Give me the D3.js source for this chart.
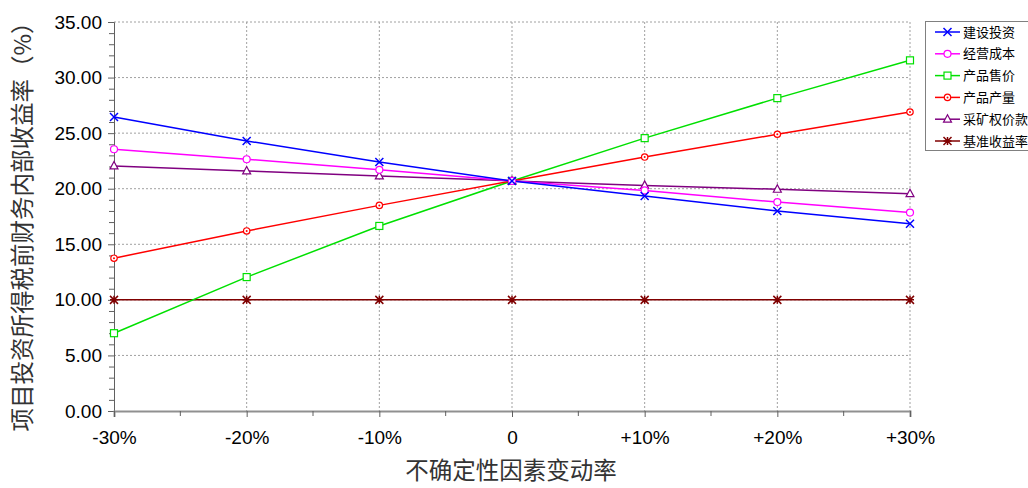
<!DOCTYPE html>
<html><head><meta charset="utf-8">
<script src="https://cdn.jsdelivr.net/npm/d3@7"></script>
<style>
body{margin:0;background:#fff;}
svg{display:block;}
text{font-family:"Liberation Sans",Arial,sans-serif;}
.cjk{font-family:"Noto Sans CJK SC",sans-serif;}
</style></head>
<body>
<svg id="c" width="1028" height="488"></svg>
<script>
const categories = ["-30%","-20%","-10%","0","+10%","+20%","+30%"];
const seriesNames = ["建设投资","经营成本","产品售价","产品产量","采矿权价款","基准收益率"];
const jianshe   = [26.45, 24.30, 22.40, 20.70, 19.35, 18.00, 16.85];
const jingying  = [23.55, 22.65, 21.70, 20.70, 19.85, 18.80, 17.85];
const shoujia   = [7.00, 12.05, 16.65, 20.70, 24.55, 28.15, 31.55];
const chanliang = [13.75, 16.20, 18.50, 20.70, 22.85, 24.90, 26.90];
const caikuang  = [22.05, 21.60, 21.15, 20.70, 20.30, 19.95, 19.55];
const jizhun    = [10.00, 10.00, 10.00, 10.00, 10.00, 10.00, 10.00];
const yTicks = [0,5,10,15,20,25,30,35];
const colors = ["#0000ff","#ff00ff","#00e000","#ff0000","#800080","#800000"];
const markers = ["x","circle","square","diamond","triangle","star"];
const allSeries = [jianshe,jingying,shoujia,chanliang,caikuang,jizhun];

const svg = d3.select("#c");
const L=114,R=910,T=22,B=411;
const x = d3.scalePoint().domain(categories).range([L,R]);
const y = d3.scaleLinear().domain([0,35]).range([B,T]);

// grid
const g = svg.append("g");
g.selectAll(".hg").data(yTicks.slice(1)).join("line")
 .attr("x1",L).attr("x2",R).attr("y1",d=>y(d)).attr("y2",d=>y(d))
 .attr("stroke","#a0a0a0").attr("stroke-width",1).attr("stroke-dasharray","2,2");
g.selectAll(".vg").data(categories.slice(1)).join("line")
 .attr("x1",d=>x(d)).attr("x2",d=>x(d)).attr("y1",T).attr("y2",B)
 .attr("stroke","#a0a0a0").attr("stroke-width",1).attr("stroke-dasharray","2,2");

// y axis
const yAx = svg.append("g").attr("transform",`translate(${L},0)`)
 .call(d3.axisLeft(y).tickValues(yTicks).tickFormat(d3.format(".2f")).tickSize(6).tickPadding(6));
yAx.select(".domain").attr("stroke","#606060");
yAx.selectAll(".tick line").attr("stroke","#606060");
yAx.selectAll("text").attr("font-size",19).attr("fill","#000").attr("font-family","Liberation Sans, Arial");
svg.append("g").attr("transform",`translate(${L},0)`)
 .call(d3.axisLeft(y).tickValues(d3.range(0,36,1).filter(v=>v%5)).tickFormat("").tickSize(5))
 .call(a=>a.select(".domain").remove())
 .selectAll(".tick line").attr("stroke","#606060");

// x axis
const xAx = svg.append("g").attr("transform",`translate(0,${B})`)
 .call(d3.axisBottom(x).tickSize(6).tickPadding(14));
xAx.select(".domain").attr("stroke","#909090").attr("stroke-width",2);
xAx.selectAll(".tick line").attr("stroke","#606060");
xAx.selectAll("text").attr("font-size",19).attr("fill","#000").attr("font-family","Liberation Sans, Arial");
const step = x.step();
svg.append("g").selectAll("line").data(categories.slice(0,-1)).join("line")
 .attr("x1",d=>x(d)+step/2).attr("x2",d=>x(d)+step/2).attr("y1",B).attr("y2",B+5)
 .attr("stroke","#606060");

// titles
svg.append("text").attr("class","cjk").attr("x",511).attr("y",479).attr("text-anchor","middle")
 .attr("font-size",23.5).attr("fill","#333").text("不确定性因素变动率");
svg.append("text").attr("class","cjk").attr("transform","translate(31,221) rotate(-90)")
 .attr("text-anchor","middle").attr("font-size",23.5).attr("fill","#333").text("项目投资所得税前财务内部收益率（%）");

function drawMarker(sel,type,color){
  const s=4;
  if(type==="x"){
    sel.append("path").attr("d",`M${-s},${-s}L${s},${s}M${-s},${s}L${s},${-s}`).attr("stroke",color).attr("stroke-width",1.5).attr("fill","none");
  } else if(type==="circle"){
    sel.append("circle").attr("r",3.5).attr("fill","#fff").attr("stroke",color).attr("stroke-width",1.2);
  } else if(type==="square"){
    sel.append("rect").attr("x",-3.5).attr("y",-3.5).attr("width",7).attr("height",7).attr("fill","#fff").attr("stroke",color).attr("stroke-width",1.2);
  } else if(type==="diamond"){
    sel.append("circle").attr("r",3.2).attr("fill","#fff").attr("stroke",color).attr("stroke-width",1.2);
    sel.append("circle").attr("r",1).attr("fill",color);
  } else if(type==="triangle"){
    sel.append("path").attr("d","M0,-4.5L4,3L-4,3Z").attr("fill","#fff").attr("stroke",color).attr("stroke-width",1.2);
  } else if(type==="star"){
    sel.append("path").attr("d",`M${-s},${-s}L${s},${s}M${-s},${s}L${s},${-s}M0,${-s}L0,${s}M${-s},0L${s},0`).attr("stroke",color).attr("stroke-width",1.5);
  }
}

const line = d3.line().x((d,i)=>x(categories[i])).y(d=>y(d));
const order=[5,2,3,4,1,0];
order.forEach(si=>{
  const data=allSeries[si];
  svg.append("path").datum(data).attr("d",line).attr("fill","none")
   .attr("stroke",colors[si]).attr("stroke-width",1.5);
});
order.forEach(si=>{
  const data=allSeries[si];
  data.forEach((v,i)=>{
    const m=svg.append("g").attr("transform",`translate(${x(categories[i])},${y(v)})`);
    drawMarker(m,markers[si],colors[si]);
  });
});

// legend
const lg = svg.append("g");
lg.append("rect").attr("x",925.5).attr("y",21.5).attr("width",110).attr("height",129)
 .attr("fill","#fff").attr("stroke","#808080").attr("stroke-width",1);
seriesNames.forEach((n,i)=>{
  const yy=32+i*21.8;
  lg.append("line").attr("x1",935).attr("x2",960).attr("y1",yy).attr("y2",yy).attr("stroke",colors[i]).attr("stroke-width",1.5);
  const m=lg.append("g").attr("transform",`translate(947.5,${yy})`);
  drawMarker(m,markers[i],colors[i]);
  lg.append("text").attr("class","cjk").attr("x",963).attr("y",yy+4.5).attr("font-size",13).attr("fill","#000").text(n);
});
</script>
</body></html>
